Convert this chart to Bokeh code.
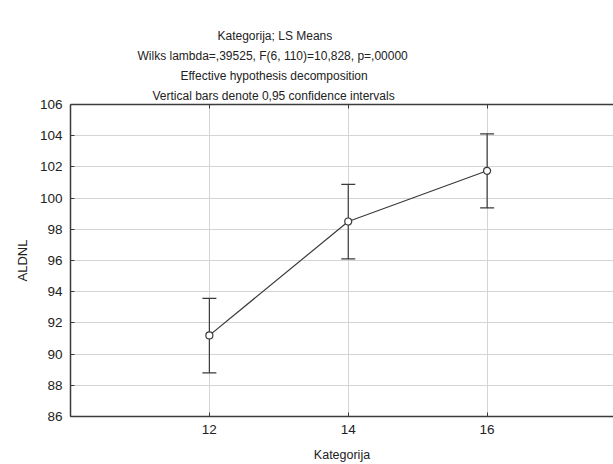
from bokeh.plotting import figure, ColumnDataSource
from bokeh.models import Range1d, FixedTicker, LinearAxis, Whisker, TeeHead, Title
from bokeh.embed import file_html
from bokeh.resources import INLINE

categories = [12, 14, 16]
means = [91.2, 98.5, 101.75]
upper = [93.57, 100.88, 104.12]
lower = [88.8, 96.1, 99.37]
y_ticks = [86, 88, 90, 92, 94, 96, 98, 100, 102, 104, 106]
title_lines = [
    "Kategorija; LS Means",
    "Wilks lambda=,39525, F(6, 110)=10,828, p=,00000",
    "Effective hypothesis decomposition",
    "Vertical bars denote 0,95 confidence intervals",
]

FONT = "Liberation Sans"
DARK = "#3a3a3a"

src = ColumnDataSource(dict(x=categories, y=means, up=upper, lo=lower))

p = figure(width=613, height=464, output_backend="svg", toolbar_location=None,
           x_range=Range1d(10, 17.82), y_range=Range1d(86, 106),
           x_axis_location=None, y_axis_location=None,
           min_border_left=70, min_border_right=0, min_border_top=104, min_border_bottom=46)
p.outline_line_color = None
p.background_fill_color = "white"
p.border_fill_color = "white"

def style_axis(ax, labels=True):
    ax.axis_line_color = DARK
    ax.axis_line_width = 1.5
    ax.major_tick_in = 4
    ax.major_tick_out = 0
    ax.major_tick_line_color = DARK
    ax.minor_tick_line_color = None
    ax.major_label_text_font = FONT
    ax.major_label_text_font_size = "13.5px"
    ax.major_label_text_color = "#222222"
    ax.axis_label_text_font = FONT
    ax.axis_label_text_font_style = "normal"
    ax.axis_label_text_color = "#222222"
    if not labels:
        ax.major_label_text_color = None

xax = LinearAxis(ticker=FixedTicker(ticks=categories), axis_label="Kategorija")
style_axis(xax)
xax.major_label_standoff = 8
xax.axis_label_standoff = 11
xax.axis_label_text_font_size = "12.5px"
p.add_layout(xax, "below")

yax = LinearAxis(ticker=FixedTicker(ticks=y_ticks), axis_label="ALDNL")
style_axis(yax)
yax.major_label_standoff = 8
yax.axis_label_standoff = 7
yax.axis_label_text_font_size = "13px"
p.add_layout(yax, "left")

tax = LinearAxis(ticker=FixedTicker(ticks=categories))
style_axis(tax, labels=False)
tax.major_label_standoff = 0
tax.major_label_text_font_size = "1px"
p.add_layout(tax, "above")

# spacer between the top border and the title block
p.add_layout(Title(text="\u200b", text_font_size="1px", standoff=10, text_color=None), "above")

p.xgrid.ticker = FixedTicker(ticks=categories)
p.ygrid.ticker = FixedTicker(ticks=y_ticks)
for g in (p.xgrid, p.ygrid):
    g.grid_line_color = "#d4d4d4"
    g.grid_line_width = 1

wh = Whisker(source=src, base="x", upper="up", lower="lo", line_color=DARK, line_width=1.2,
             upper_head=TeeHead(size=14, line_color=DARK, line_width=1.2),
             lower_head=TeeHead(size=14, line_color=DARK, line_width=1.2))
p.add_layout(wh)

p.line("x", "y", source=src, line_color=DARK, line_width=1.2)
p.scatter("x", "y", source=src, size=7, fill_color="white", line_color=DARK, line_width=1.2)

# left edges of the title lines (pixels from the frame's left edge)
title_starts = [147, 67, 110, 82]
for t, off in reversed(list(zip(title_lines, title_starts))):
    p.add_layout(Title(text=t, align="left", offset=off,
                       text_font=FONT, text_font_size="12px", text_font_style="normal",
                       text_color="#222222", standoff=4), "above")

open("out.html", "w").write(file_html(p, INLINE))
